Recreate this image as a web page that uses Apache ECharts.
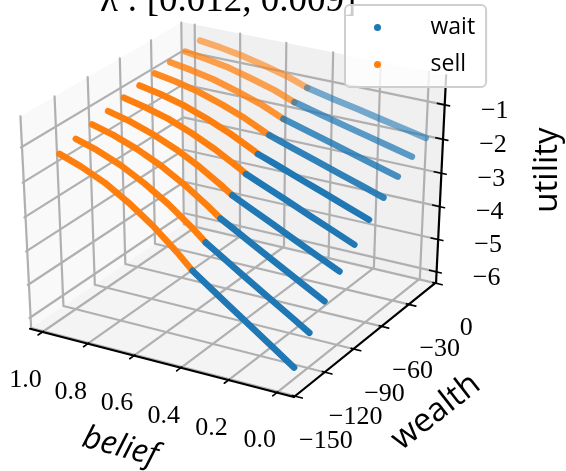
<!DOCTYPE html>
<html><head><meta charset="utf-8">
<style>html,body{margin:0;padding:0;background:#fff}#c{width:566px;height:471px}</style>
<script src="https://cdn.jsdelivr.net/npm/echarts@6/dist/echarts.min.js"></script>
</head><body><div id="c"></div>
<script>
const titleText = "λ : [0.012, 0.009]";
const beliefTicks = [1.0, 0.8, 0.6, 0.4, 0.2, 0.0];
const wealthTicks = [0, -30, -60, -90, -120, -150];
const utilityTicks = [-1, -2, -3, -4, -5, -6];
const beliefGrid = [.012, .1, .2, .3, .4, .5, .6, .7, .8, .9, .99];
const wealthLevels = [-131, -116, -101, -86, -71, -56, -41, -26, -11, 4];
const switchBelief = [.435, .445, .447, .462, .468, .481, .496, .498, .513, .52];
const switchUtility = [-3.96, -3.47, -3.09, -2.74, -2.43, -2.16, -1.92, -1.73, -1.54, -1.40];
const utilityRows = [
  [-6.08,-5.64,-5.14,-4.64,-4.14,-3.52,-2.92,-2.42,-2.00,-1.69,-1.47],
  [-5.39,-5.00,-4.56,-4.12,-3.67,-3.14,-2.61,-2.17,-1.80,-1.52,-1.33],
  [-4.79,-4.45,-4.06,-3.67,-3.27,-2.81,-2.34,-1.94,-1.62,-1.37,-1.20],
  [-4.24,-3.95,-3.62,-3.28,-2.95,-2.56,-2.13,-1.77,-1.48,-1.25,-1.10],
  [-3.77,-3.51,-3.22,-2.92,-2.63,-2.29,-1.91,-1.59,-1.32,-1.13,-0.99],
  [-3.35,-3.13,-2.87,-2.62,-2.36,-2.08,-1.74,-1.45,-1.21,-1.03,-0.91],
  [-3.01,-2.81,-2.59,-2.36,-2.14,-1.90,-1.58,-1.32,-1.10,-0.94,-0.83],
  [-2.69,-2.52,-2.32,-2.12,-1.92,-1.71,-1.43,-1.21,-1.01,-0.87,-0.77],
  [-2.40,-2.25,-2.08,-1.91,-1.74,-1.56,-1.31,-1.11,-0.93,-0.81,-0.72],
  [-2.14,-2.01,-1.87,-1.72,-1.58,-1.43,-1.20,-1.02,-0.86,-0.74,-0.66]
];
const lineOpacity = [1, 1, 1, 1, 1, 1, .92, .82, .72, .6];
const blue = '#1f77b4', orange = '#ff7f0e', gridColor = '#b0b0b0';
const bLim = [-0.07, 1.055], wLim = [-151, 1], uLim = [-6.33, -0.15];

// matplotlib-style perspective camera (elev 30, azim -60), stretched to the axes rectangle
function project(b, w, u) {
  const X = -.5 + (bLim[1] - b) / (bLim[1] - bLim[0]);
  const Y = -.5 + (w - wLim[0]) / (wLim[1] - wLim[0]);
  const Z = -.5 + (u - uLim[0]) / (uLim[1] - uLim[0]);
  const xv = .866 * X + .5 * Y;
  const yv = -.25 * X + .433 * Y + .866 * Z;
  const d = .433 * X - .75 * Y + .5 * Z;
  const f = 1 / (10 - d);
  return [236.2 + 3046 * xv * f, 203.1 - 2418 * yv * f];
}
const bA = bLim[1], bZ = bLim[0], wF = wLim[0], wB = wLim[1], uB = uLim[0], uT = uLim[1];
const series = [];
function seg(points, color, width, z) {
  series.push({type: 'line', silent: true, symbol: 'none', z: z || 1, clip: false, animation: false,
    data: points, lineStyle: {color, width, cap: 'round', join: 'round'}});
}
// legend entries
series.push({type: 'scatter', name: 'wait', data: [], itemStyle: {color: blue, opacity: 1}});
series.push({type: 'scatter', name: 'sell', data: [], itemStyle: {color: orange, opacity: 1}});
// panes
const panes = [
  {fill: '#f9f9f9', pts: [project(bA,wF,uB), project(bA,wB,uB), project(bA,wB,uT), project(bA,wF,uT)]},
  {fill: '#f0f0f0', pts: [project(bA,wB,uB), project(bZ,wB,uB), project(bZ,wB,uT), project(bA,wB,uT)]},
  {fill: '#f4f4f4', pts: [project(bA,wF,uB), project(bZ,wF,uB), project(bZ,wB,uB), project(bA,wB,uB)]}
];
series.push({type: 'custom', silent: true, z: 0, clip: false, coordinateSystem: 'cartesian2d',
  data: panes.map((p, i) => [i, 0]),
  renderItem: (params, api) => ({type: 'polygon',
    shape: {points: panes[params.dataIndex].pts.map(p => api.coord(p))},
    style: {fill: panes[params.dataIndex].fill}})
});
// grid lines
beliefTicks.forEach(b => seg([project(b,wF,uB), project(b,wB,uB), project(b,wB,uT)], gridColor, 2.2));
wealthTicks.forEach(w => seg([project(bZ,w,uB), project(bA,w,uB), project(bA,w,uT)], gridColor, 2.2));
utilityTicks.forEach(u => seg([project(bZ,wB,u), project(bA,wB,u), project(bA,wF,u)], gridColor, 2.2));
// axis lines and ticks
seg([project(bA,wF,uB), project(bZ,wF,uB)], '#000', 2.2, 3);
seg([project(bZ,wF,uB), project(bZ,wB,uB)], '#000', 2.2, 3);
seg([project(bZ,wB,uB), project(bZ,wB,uT)], '#000', 2.2, 3);
beliefTicks.forEach(b => seg([project(b,wF+1,uB), project(b,wF-4,uB)], '#000', 1.6, 3));
wealthTicks.forEach(w => seg([project(bZ+.01,w,uB), project(bZ-.03,w,uB)], '#000', 1.6, 3));
utilityTicks.forEach(u => seg([project(bZ+.03,wB,u), project(bZ-.02,wB,u)], '#000', 1.6, 3));
// curves, back to front
for (let i = wealthLevels.length - 1; i >= 0; i--) {
  const w = wealthLevels[i], s = switchBelief[i], row = utilityRows[i];
  const waitPts = [], sellPts = [[s, switchUtility[i]]];
  beliefGrid.forEach((b, k) => { if (b < s) waitPts.push([b, row[k]]); else sellPts.push([b, row[k]]); });
  waitPts.push([s, switchUtility[i]]);
  const mk = (pts, color, name) => series.push({type: 'line', name, silent: true, symbol: 'none', z: 2, clip: false,
    data: pts.map(p => project(p[0], w, p[1])),
    lineStyle: {color, width: 6.5, opacity: lineOpacity[i], cap: 'round', join: 'round'}});
  mk(sellPts, orange, 'sell');
  mk(waitPts, blue, 'wait');
}
// texts
const serif = '"Liberation Serif", serif', sans = '"Open Sans", sans-serif';
function txt(text, x, y, size, family, extra) {
  return Object.assign({type: 'text', x, y, z: 5, silent: true,
    style: {text, font: `${size}px ${family}`, fill: '#000', textAlign: 'center', textVerticalAlign: 'middle'}}, extra || {});
}
const fmt = v => (v < 0 ? '\u2212' : '') + Math.abs(v);
const graphics = [];
beliefTicks.forEach(b => { const p = project(b, wF, uB); graphics.push(txt(b.toFixed(1), p[0]-17, p[1]+48, 26, serif)); });
wealthTicks.forEach(w => { const p = project(bZ, w, uB); graphics.push(txt(fmt(w), p[0]+31, p[1]+45, 26, serif)); });
utilityTicks.forEach(u => { const p = project(bZ, wB, u); graphics.push(txt(fmt(u), p[0]+50, p[1]+6, 26, serif)); });
const deg = Math.PI / 180;
graphics.push(txt('belief', 120, 447, 32, sans, {rotation: -15 * deg}));
graphics[graphics.length-1].style.font = `italic 32px ${sans}`;
graphics.push(txt('wealth', 436, 412, 33, sans, {rotation: 38 * deg}));
graphics.push(txt('utility', 548, 170, 33, sans, {rotation: 90 * deg}));
graphics.push({type: 'text', x: 100, y: 20, z: 1, silent: true,
  style: {text: titleText, font: `37px ${serif}`, fill: '#000', textAlign: 'left', textVerticalAlign: 'bottom'}});

const chart = echarts.init(document.getElementById('c'), null, {renderer: 'canvas'});
chart.setOption({
  animation: false,
  backgroundColor: '#fff',
  grid: {left: 0, right: 0, top: 0, bottom: 0},
  xAxis: {type: 'value', min: 0, max: 566, show: false},
  yAxis: {type: 'value', min: 0, max: 471, inverse: true, show: false},
  tooltip: {show: false},
  legend: {
    data: [{name: 'wait', icon: 'circle'}, {name: 'sell', icon: 'circle'}],
    orient: 'vertical', left: 345, top: 5, z: 10, selectedMode: false,
    padding: [9, 11, 9, 29], itemWidth: 56, itemHeight: 7, itemGap: 10,
    backgroundColor: 'rgba(255,255,255,0.8)', borderColor: '#cfcfcf', borderWidth: 2, borderRadius: 5,
    textStyle: {fontFamily: 'Open Sans', fontSize: 23, color: '#000', lineHeight: 27, padding: [0, 0, 0, 20]}
  },
  graphic: {elements: graphics},
  series
});
</script></body></html>
